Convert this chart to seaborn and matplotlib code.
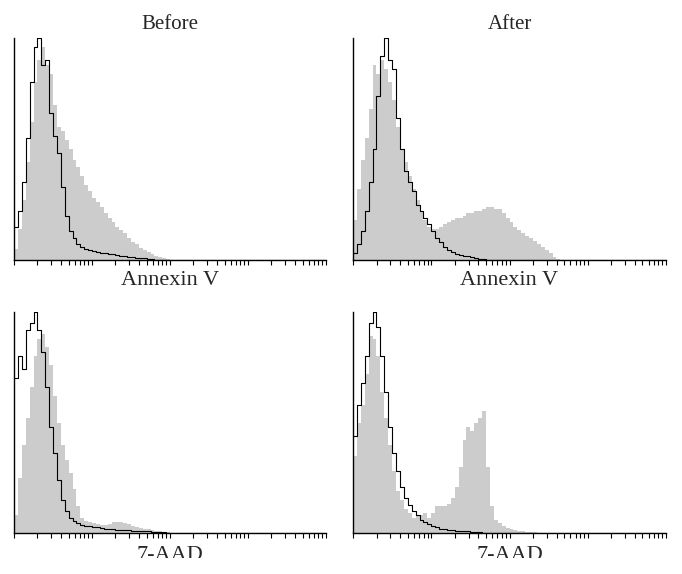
import numpy as np
import matplotlib
matplotlib.use("Agg")
import matplotlib.pyplot as plt
import seaborn as sns
from matplotlib.ticker import LogLocator, NullLocator
from matplotlib.transforms import Bbox, TransformedBbox

# histogram heights, 20 channels per decade starting at 10^0 (% of panel max)
before_annexin_sample = [5, 14, 27, 44, 62, 80, 90, 96, 88, 84, 70, 60, 58, 54, 50, 45, 42, 38,
                         34, 31, 28, 26, 24, 21, 19, 17, 15, 13.5, 12, 10, 8, 7, 5.5, 4.5, 3.5,
                         2.5, 2, 1.3, 0.8, 0.4, 0.2]
before_annexin_control = [15, 22, 35, 55, 80, 96, 100, 88, 90, 66, 56, 48, 33, 20, 13, 10, 7, 6,
                          5, 4.5, 4, 3.5, 3.2, 3, 2.7, 2.5, 2.2, 2, 1.8, 1.5, 1.3, 1.1, 1.0, 0.8,
                          0.6, 0.4, 0.2]

after_annexin_sample = [18, 32, 45, 55, 68, 88, 84, 90, 86, 80, 72, 60, 50, 44, 38, 32, 27, 22,
                        18, 15, 14, 14, 15, 16, 17, 18, 19, 19, 20, 21, 21, 22, 22, 23, 24, 24,
                        23, 23, 21, 19, 17, 15, 13.5, 12, 11, 10, 8.5, 7, 6, 4.5, 3, 1.5, 0.6, 0.2]
after_annexin_control = [3, 7, 13, 22, 35, 50, 74, 92, 100, 90, 86, 64, 50, 40, 35, 31, 25, 22,
                         19, 16, 13, 10, 8, 6, 4.5, 3.5, 2.8, 2.3, 1.9, 1.6, 1.3, 1.1, 0.6, 0.3]

before_7aad_sample = [8, 25, 40, 52, 66, 80, 88, 90, 84, 76, 62, 50, 40, 33, 27, 20, 12, 7, 5.5,
                      5, 4.5, 4, 3.6, 3.8, 4.2, 4.8, 5, 4.8, 4.5, 4, 3.3, 2.8, 2.3, 1.9, 1.6,
                      1.3, 1.1, 0.8, 0.5, 0.3]
before_7aad_control = [70, 80, 74, 92, 95, 100, 92, 82, 66, 48, 36, 24, 15, 10, 7, 5.5, 4.5, 3.8,
                       3.3, 3, 2.7, 2.5, 2.2, 2, 1.8, 1.7, 1.5, 1.4, 1.3, 1.2, 1.1, 1, 0.9, 0.8,
                       0.7, 0.6, 0.5, 0.4, 0.3, 0.2, 0.1]

after_7aad_sample = [35, 50, 58, 72, 89, 88, 80, 64, 52, 40, 28, 19, 15, 11, 9, 7, 7.5, 8, 9, 7,
                     9, 12, 12, 12, 13, 16, 21, 30, 42, 48, 46, 50, 52, 55, 30, 12, 6, 4.5, 3,
                     2.3, 1.8, 1.3, 1, 0.8, 0.6, 0.5, 0.3]
after_7aad_control = [44, 58, 68, 80, 95, 100, 93, 80, 64, 48, 36, 28, 21, 16, 12.5, 10, 8, 6, 5,
                      4, 3, 2.5, 2, 1.7, 1.4, 1.2, 1.1, 1, 0.9, 0.8, 0.6, 0.5, 0.3, 0.2]

titles = ["Before", "After"]
markers = ["Annexin V", "7-AAD"]

CHANNELS_PER_DECADE = 20
DECADES = 4


def channel_values(counts):
    # fluorescence value at the middle of each log channel
    idx = np.arange(len(counts))
    return 10 ** ((idx + 0.5) / CHANNELS_PER_DECADE)


def plot_panel(ax, sample, control, title=None, xlabel=None):
    bins = CHANNELS_PER_DECADE * DECADES
    sns.histplot(x=channel_values(sample), weights=sample, bins=bins, binrange=(0, DECADES),
                 log_scale=True, element="step", fill=True, color="#cccccc", alpha=1,
                 linewidth=0, ax=ax)
    sns.histplot(x=channel_values(control), weights=control, bins=bins, binrange=(0, DECADES),
                 log_scale=True, element="step", fill=False, color="black", linewidth=0.8,
                 ax=ax)
    ax.set_xlim(1, 10 ** DECADES)
    ax.set_ylim(0, 100)
    ax.set_yticks([])
    ax.set_ylabel("")
    ax.xaxis.set_major_locator(LogLocator(base=10, subs=np.arange(1, 10), numticks=100))
    ax.xaxis.set_minor_locator(NullLocator())
    ax.tick_params(axis="x", which="both", bottom=True, direction="out", length=3.5, width=0.8,
                   color="black", labelbottom=False)
    sns.despine(ax=ax)
    for side in ["left", "bottom"]:
        ax.spines[side].set_color("black")
        ax.spines[side].set_linewidth(1.0)
    if title:
        ax.set_title(title, fontsize=15, pad=6.5)
    ax.set_xlabel(xlabel, fontsize=16)
    ax.xaxis.label.set_va("baseline")


sns.set_style("ticks")
plt.rcParams["font.family"] = ["Liberation Serif", "DejaVu Serif"]

W, H = 682, 574
fig = plt.figure(figsize=(W / 100, H / 100), dpi=100)

ax_tl = fig.add_axes([14 / W, (H - 260) / H, 312 / W, 222 / H])
ax_tr = fig.add_axes([353 / W, (H - 260) / H, 313 / W, 222 / H])
ax_bl = fig.add_axes([14 / W, (H - 533) / H, 312 / W, 221 / H])
ax_br = fig.add_axes([353 / W, (H - 533) / H, 313 / W, 221 / H])

plot_panel(ax_tl, before_annexin_sample, before_annexin_control, titles[0], markers[0])
plot_panel(ax_tr, after_annexin_sample, after_annexin_control, titles[1], markers[0])
plot_panel(ax_bl, before_7aad_sample, before_7aad_control, None, markers[1])
plot_panel(ax_br, after_7aad_sample, after_7aad_control, None, markers[1])

for ax in [ax_tl, ax_tr]:
    ax.xaxis.set_label_coords(0.5, -25 / 222)
for ax in [ax_bl, ax_br]:
    ax.xaxis.set_label_coords(0.5, -27 / 221)
    # the bottom labels are cut off in the original figure
    clip = TransformedBbox(Bbox([[0, (H - 558) / H], [1, 1]]), fig.transFigure)
    ax.xaxis.label.set_clip_box(clip)
    ax.xaxis.label.set_clip_on(True)

fig.savefig("out.png", dpi=100)
